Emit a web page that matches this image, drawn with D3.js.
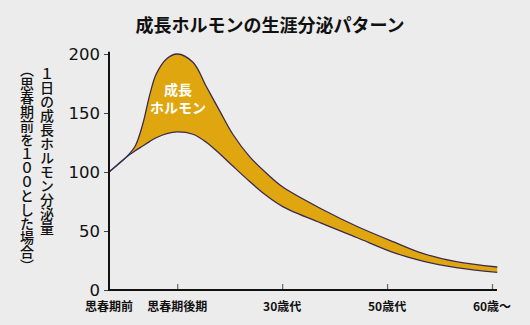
<!DOCTYPE html>
<html><head><meta charset="utf-8">
<script src="https://cdn.jsdelivr.net/npm/d3@7"></script>
<style>
html,body{margin:0;padding:0;background:#ececec;}
svg{display:block;}
</style></head>
<body>
<svg id="c" width="530" height="325"></svg>
<script>
// ---- data ----
const title = "成長ホルモンの生涯分泌パターン";
const yLabel1 = "１日の成長ホルモン分泌量";
const yLabel2 = "（思春期前を１００とした場合）";
const bandLabel = ["成長", "ホルモン"];
const categories = ["思春期前", "思春期後期", "30歳代", "50歳代", "60歳〜"];
const categoryPos = [0, 0.65, 1.65, 2.65, 3.65];
const yTicks = [0, 50, 100, 150, 200];
const stage = [0, 0.17, 0.25, 0.32, 0.39, 0.45, 0.55, 0.65, 0.8, 0.93, 1.06, 1.18, 1.34, 1.5, 1.66, 2.04, 2.36, 2.72, 2.99, 3.31, 3.7];
const upper = [100, 113, 122, 140, 166, 183, 196, 200, 193, 172, 151, 132, 113, 99, 87, 68, 54, 40.5, 31, 24, 19.5];
const lower = [100, 113, 118, 122, 126, 129, 132.5, 134, 132, 125, 115, 105, 92, 80, 70.5, 56, 44.5, 31.5, 24.5, 19, 15];

const svg = d3.select("#c");
const x = d3.scaleLinear().domain([0, 3.65]).range([109, 492]);
const y = d3.scaleLinear().domain([0, 200]).range([290, 54]);

const pts = stage.map((s, i) => ({s, u: upper[i], l: lower[i]}));

// title
svg.append("text").attr("x", 270).attr("y", 32).attr("text-anchor", "middle")
  .attr("font-family", "'Noto Sans CJK JP'").attr("font-weight", "bold")
  .attr("font-size", 18).attr("fill", "#111").text(title);

// band
const curve = d3.curveCatmullRom.alpha(0.5);
svg.append("path").datum(pts)
  .attr("d", d3.area().x(d => x(d.s)).y0(d => y(d.l)).y1(d => y(d.u)).curve(curve))
  .attr("fill", "#dfa60f");
["u", "l"].forEach(k => {
  svg.append("path").datum(pts)
    .attr("d", d3.line().x(d => x(d.s)).y(d => y(d[k])).curve(curve))
    .attr("fill", "none").attr("stroke", "#3b2b4f").attr("stroke-width", 1.3);
});

// band label
svg.append("text").attr("text-anchor", "middle")
  .attr("font-family", "'Noto Sans CJK JP'").attr("font-weight", "bold")
  .attr("font-size", 14).attr("fill", "#fff")
  .selectAll("tspan").data(bandLabel).join("tspan")
  .attr("x", 178).attr("y", (d, i) => 95 + i * 18).text(d => d);

// y axis
const yAxis = svg.append("g").attr("transform", "translate(109,0)")
  .call(d3.axisLeft(y).tickValues(yTicks).tickSize(5).tickPadding(4).tickSizeOuter(0));
yAxis.select(".domain").remove();
yAxis.selectAll(".tick line").attr("stroke", "#444").attr("stroke-width", 1);
yAxis.selectAll(".tick text").attr("font-family", "'DejaVu Sans'")
  .attr("font-size", 16.5).attr("fill", "#111");
svg.append("line").attr("x1", 109).attr("x2", 109).attr("y1", y(202)).attr("y2", y(0) + 1)
  .attr("stroke", "#111").attr("stroke-width", 2);

// x axis
const xAxis = svg.append("g").attr("transform", "translate(0,290)")
  .call(d3.axisBottom(x).tickValues(categoryPos.slice(1)).tickSize(-6).tickFormat("").tickSizeOuter(0));
xAxis.select(".domain").remove();
xAxis.selectAll(".tick line").attr("stroke", "#666").attr("stroke-width", 1.2);
svg.append("line").attr("x1", 108).attr("x2", 497).attr("y1", 290).attr("y2", 290)
  .attr("stroke", "#111").attr("stroke-width", 2);
svg.append("g").selectAll("text").data(categories).join("text")
  .attr("x", (d, i) => x(categoryPos[i]))
  .attr("y", 311).attr("text-anchor", "middle")
  .attr("font-family", "'Noto Sans CJK JP'").attr("font-weight", "bold")
  .attr("font-size", 12).attr("fill", "#111").text(d => d);

// y label (vertical)
svg.append("text").attr("x", 47).attr("y", 67)
  .style("writing-mode", "vertical-rl")
  .attr("font-family", "'Noto Sans CJK JP'").attr("font-weight", "500")
  .attr("font-size", 14).attr("fill", "#111").text(yLabel1);
svg.append("text").attr("x", 27).attr("y", 63)
  .style("writing-mode", "vertical-rl")
  .attr("font-family", "'Noto Sans CJK JP'").attr("font-weight", "500")
  .attr("font-size", 14).attr("fill", "#111").text(yLabel2);
</script>
</body></html>
